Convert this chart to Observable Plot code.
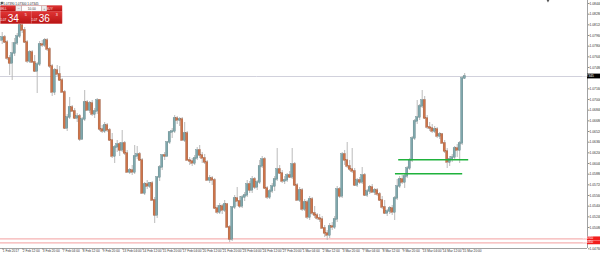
<!DOCTYPE html>
<html>
<head>
<meta charset="utf-8">
<script src="https://cdn.jsdelivr.net/npm/d3@7"></script>
<script src="https://cdn.jsdelivr.net/npm/@observablehq/plot@0.6"></script>
<style>
  html, body { margin: 0; padding: 0; background: #fff; }
  #chart { width: 600px; height: 255px; overflow: hidden; }
</style>
</head>
<body>
<div id="chart"></div>
<script>
// ---- DATA (EURUSD, H4 bars) ----
const open = [
1.07885,1.07930,1.07855,1.07615,1.07540,1.07690,1.07840,1.07945,1.08110,1.08035,
1.07855,1.07570,1.07705,1.07555,1.07420,1.07525,1.07825,1.07810,1.07885,1.07750,
1.07495,1.07105,1.07435,1.07375,1.07285,1.07105,1.06565,1.06730,1.06880,1.06820,
1.06715,1.06745,1.06400,1.06700,1.06955,1.06835,1.06940,1.06775,1.06820,1.06985,
1.06550,1.06520,1.06610,1.06535,1.06385,1.06145,1.06280,1.06325,1.06235,1.06340,
1.06190,1.05905,1.05935,1.05905,1.06145,1.06175,1.06085,1.05590,1.05725,1.05695,
1.05740,1.05485,1.05260,1.05830,1.05980,1.06160,1.06145,1.06355,1.06505,1.06520,
1.06715,1.06685,1.06700,1.06385,1.06490,1.06085,1.06070,1.06040,1.06115,1.06235,
1.06160,1.06115,1.06055,1.05785,1.05815,1.05785,1.05365,1.05305,1.05395,1.05335,
1.05425,1.05080,1.04900,1.05380,1.05515,1.05470,1.05395,1.05530,1.05560,1.05725,
1.05635,1.05800,1.05680,1.05755,1.05995,1.06100,1.05665,1.05530,1.05620,1.05695,
1.05800,1.05950,1.05890,1.05770,1.05785,1.05860,1.05830,1.06025,1.05710,1.05485,
1.05635,1.05350,1.05455,1.05230,1.05500,1.05290,1.05260,1.05215,1.05200,1.05065,
1.04990,1.04960,1.05095,1.05080,1.05200,1.05650,1.05545,1.06175,1.06085,1.05995,
1.05950,1.05920,1.05710,1.05785,1.05755,1.05860,1.05560,1.05620,1.05680,1.05605,
1.05635,1.05575,1.05485,1.05380,1.05290,1.05320,1.05365,1.05305,1.05515,1.05695,
1.05800,1.05755,1.05845,1.05965,1.06085,1.06415,1.06670,1.06730,1.06895,1.06985,
1.06715,1.06580,1.06565,1.06520,1.06550,1.06445,1.06475,1.06340,1.06220,1.06055,
1.06100,1.06130,1.06265,1.06235,1.06340,1.07315];
const high = [
1.08005,1.07960,1.07885,1.07660,1.07855,1.07915,1.07990,1.08185,1.08320,1.08080,
1.07885,1.07735,1.07735,1.07660,1.07555,1.07870,1.07885,1.07915,1.07915,1.07780,
1.07525,1.07465,1.07510,1.07495,1.07315,1.07135,1.06775,1.07030,1.06910,1.06865,
1.06790,1.06775,1.06730,1.07135,1.06985,1.06970,1.06985,1.06865,1.07015,1.07000,
1.06610,1.06655,1.06640,1.06565,1.06490,1.06310,1.06385,1.06355,1.06535,1.06370,
1.06235,1.05965,1.06010,1.06310,1.06295,1.06205,1.06115,1.05755,1.05785,1.05755,
1.05770,1.05530,1.05845,1.06010,1.06175,1.06205,1.06370,1.06520,1.06565,1.06760,
1.06745,1.06730,1.06730,1.06655,1.06520,1.06130,1.06115,1.06160,1.06280,1.06310,
1.06205,1.06175,1.06085,1.05860,1.05845,1.05815,1.05410,1.05440,1.05425,1.05485,
1.05440,1.05110,1.05395,1.05560,1.05680,1.05545,1.05560,1.05605,1.05785,1.05770,
1.05845,1.05830,1.05785,1.06085,1.06145,1.06130,1.05695,1.05650,1.05740,1.05845,
1.06265,1.06010,1.05935,1.05845,1.05890,1.05920,1.06265,1.06055,1.05740,1.05680,
1.05665,1.05500,1.05485,1.05545,1.05530,1.05395,1.05290,1.05275,1.05245,1.05110,
1.05035,1.05140,1.05155,1.05245,1.05695,1.05680,1.06205,1.06235,1.06355,1.06085,
1.06265,1.05965,1.05815,1.05830,1.05980,1.05890,1.05650,1.05710,1.05725,1.05665,
1.05665,1.05605,1.05545,1.05485,1.05350,1.05395,1.05410,1.05545,1.05800,1.05845,
1.05860,1.05875,1.05995,1.06115,1.06445,1.06700,1.06985,1.06925,1.07135,1.07045,
1.06760,1.06655,1.06625,1.06595,1.06580,1.06505,1.06490,1.06385,1.06265,1.06145,
1.06175,1.06295,1.06325,1.06370,1.07345,1.07390];
const low = [
1.07825,1.07840,1.07585,1.07360,1.07285,1.07645,1.07810,1.07915,1.07990,1.07840,
1.07540,1.07540,1.07540,1.07405,1.07090,1.07495,1.07780,1.07780,1.07720,1.07465,
1.07045,1.07060,1.07345,1.07270,1.07090,1.06550,1.06520,1.06700,1.06805,1.06700,
1.06655,1.06370,1.06385,1.06670,1.06820,1.06790,1.06745,1.06715,1.06775,1.06520,
1.06490,1.06490,1.06505,1.06370,1.06115,1.06040,1.06205,1.06145,1.06205,1.06160,
1.05890,1.05875,1.05860,1.05875,1.06100,1.06070,1.05575,1.05560,1.05650,1.05665,
1.05470,1.05140,1.05215,1.05770,1.05935,1.06085,1.06130,1.06325,1.06415,1.06490,
1.06625,1.06595,1.06370,1.06355,1.06070,1.06010,1.05995,1.06010,1.06085,1.06115,
1.06040,1.06025,1.05770,1.05740,1.05710,1.05350,1.05275,1.05275,1.05275,1.05305,
1.05065,1.04855,1.04870,1.05350,1.05395,1.05365,1.05365,1.05470,1.05530,1.05590,
1.05590,1.05650,1.05635,1.05725,1.05965,1.05650,1.05500,1.05500,1.05590,1.05620,
1.05770,1.05875,1.05740,1.05725,1.05755,1.05815,1.05800,1.05695,1.05470,1.05455,
1.05320,1.05320,1.05200,1.05185,1.05260,1.05215,1.05185,1.05155,1.05050,1.04930,
1.04885,1.04915,1.05035,1.05050,1.05155,1.05515,1.05515,1.06010,1.05965,1.05920,
1.05890,1.05695,1.05680,1.05725,1.05725,1.05545,1.05530,1.05575,1.05590,1.05560,
1.05545,1.05470,1.05350,1.05275,1.05245,1.05275,1.05260,1.05185,1.05485,1.05665,
1.05725,1.05665,1.05815,1.05935,1.06055,1.06385,1.06625,1.06685,1.06865,1.06700,
1.06550,1.06520,1.06490,1.06490,1.06415,1.06400,1.06325,1.06190,1.05965,1.05995,
1.06055,1.06085,1.06130,1.06040,1.06310,1.07300];
const close = [
1.07930,1.07855,1.07615,1.07540,1.07690,1.07840,1.07945,1.08110,1.08035,1.07855,
1.07570,1.07705,1.07555,1.07420,1.07525,1.07825,1.07810,1.07885,1.07750,1.07495,
1.07105,1.07435,1.07375,1.07285,1.07105,1.06565,1.06730,1.06880,1.06820,1.06715,
1.06745,1.06400,1.06700,1.06955,1.06835,1.06940,1.06775,1.06820,1.06985,1.06550,
1.06520,1.06610,1.06535,1.06385,1.06145,1.06280,1.06325,1.06235,1.06340,1.06190,
1.05905,1.05935,1.05905,1.06145,1.06175,1.06085,1.05590,1.05725,1.05695,1.05740,
1.05485,1.05260,1.05830,1.05980,1.06160,1.06145,1.06355,1.06505,1.06520,1.06715,
1.06685,1.06700,1.06385,1.06490,1.06085,1.06070,1.06040,1.06115,1.06235,1.06160,
1.06115,1.06055,1.05785,1.05815,1.05785,1.05365,1.05305,1.05395,1.05335,1.05425,
1.05080,1.04900,1.05380,1.05515,1.05470,1.05395,1.05530,1.05560,1.05725,1.05635,
1.05800,1.05680,1.05755,1.05995,1.06100,1.05665,1.05530,1.05620,1.05695,1.05800,
1.05950,1.05890,1.05770,1.05785,1.05860,1.05830,1.06025,1.05710,1.05485,1.05635,
1.05350,1.05455,1.05230,1.05500,1.05290,1.05260,1.05215,1.05200,1.05065,1.04990,
1.04960,1.05095,1.05080,1.05200,1.05650,1.05545,1.06175,1.06085,1.05995,1.05950,
1.05920,1.05710,1.05785,1.05755,1.05860,1.05560,1.05620,1.05680,1.05605,1.05635,
1.05575,1.05485,1.05380,1.05290,1.05320,1.05365,1.05305,1.05515,1.05695,1.05800,
1.05755,1.05845,1.05965,1.06085,1.06415,1.06670,1.06730,1.06895,1.06985,1.06715,
1.06580,1.06565,1.06520,1.06550,1.06445,1.06475,1.06340,1.06220,1.06055,1.06100,
1.06130,1.06265,1.06235,1.06340,1.07315,1.07345];

// time axis labels, one every 8 bars (32 trading hours)
const timeLabels = ["1 Feb 2017","2 Feb 12:00","3 Feb 20:00","7 Feb 04:00","8 Feb 12:00","9 Feb 20:00",
  "13 Feb 04:00","14 Feb 12:00","15 Feb 20:00","17 Feb 04:00","20 Feb 12:00","21 Feb 20:00",
  "23 Feb 04:00","24 Feb 12:00","27 Feb 20:00","1 Mar 04:00","2 Mar 12:00","3 Mar 20:00",
  "7 Mar 04:00","8 Mar 12:00","9 Mar 20:00","13 Mar 04:00","14 Mar 12:00","15 Mar 20:00"];
const barsPerLabel = 8;

// price axis labels (the ones hidden behind the price boxes are left out)
const priceTicks = [1.08440,1.08280,1.08120,1.07960,1.07800,1.07640,1.07480,1.07160,1.07000,
  1.06840,1.06680,1.06520,1.06360,1.06200,1.06040,1.05880,1.05720,1.05560,1.05400,
  1.05240,1.05080,1.04760];

const symbolTitle = "EURUSD,H4";
const bid = 1.07345;
const ask = 1.07363;
const redLevels = [1.04910, 1.04850];
const greenLevels = [1.06095, 1.05885];
const greenFromBar = [158.6, 157.3];
const greenToBar = [186.6, 184.2];
const lotSize = "10.00";

// ---- build tables ----
const bars = open.map((o, i) => ({i, open: o, high: high[i], low: low[i], close: close[i]}));
const greens = greenLevels.map((v, k) => ({level: v, from: greenFromBar[k], to: greenToBar[k]}));
const timeTickBars = timeLabels.map((_, k) => k * barsPerLabel);

const bullFill = "#7fa8ad", bearFill = "#cf7449";
const bullStroke = "#4f7479", bearStroke = "#8f4727";
const xDomain = [-0.68, 234.12];
const yDomain = [1.04765, 1.08485];
const font = "'Liberation Sans', Arial, sans-serif";

const chart = Plot.plot({
  width: 600, height: 255,
  marginLeft: 0, marginRight: 13, marginTop: 0, marginBottom: 7,
  style: {fontFamily: font, background: "#fff", overflow: "visible"},
  x: {type: "linear", domain: xDomain, axis: null},
  y: {type: "linear", domain: yDomain, axis: null},
  marks: [
    Plot.ruleY([bid], {stroke: "#c5c5d3", strokeWidth: 0.8}),
    Plot.ruleY(redLevels, {stroke: "#f6b2b2", strokeWidth: 1.4}),
    Plot.ruleX(bars, {x: "i", y1: "low", y2: "high", stroke: "#b3b3b3", strokeWidth: 0.9}),
    Plot.rect(bars, {
      x1: d => d.i - 0.42, x2: d => d.i + 0.42,
      y1: "open", y2: "close",
      insetTop: -0.25, insetBottom: -0.25,
      fill: d => d.close >= d.open ? bullFill : bearFill,
      stroke: d => d.close >= d.open ? bullStroke : bearStroke,
      strokeWidth: 0.35
    }),
    Plot.ruleY(greens, {y: "level", x1: "from", x2: "to", stroke: "#1fb23c", strokeWidth: 1.5}),
    Plot.ruleX([xDomain[1]], {stroke: "#8a8a8a", strokeWidth: 0.8}),
    Plot.ruleY([yDomain[0]], {stroke: "#8a8a8a", strokeWidth: 0.8}),
    Plot.axisY(priceTicks, {
      anchor: "right", tickSize: 1.5, tickPadding: 0.5, fontSize: 3.3,
      stroke: "#8a8a8a", fill: "#333", textAnchor: "start",
      tickFormat: d => d.toFixed(5)
    }),
    Plot.axisX(timeTickBars, {
      anchor: "bottom", tickSize: 1.5, tickPadding: 0.2, fontSize: 3.2,
      stroke: "#8a8a8a", fill: "#333", textAnchor: "start", dx: 0.6,
      tickFormat: d => timeLabels[d / barsPerLabel]
    })
  ]
});
document.getElementById("chart").appendChild(chart);

// ---- price boxes on the right axis (positioned through Plot's y scale) ----
const svg = d3.select(chart);
const yS = chart.scale("y");
const xS = chart.scale("x");
const axisX = xS.apply(xDomain[1]);
function priceBox(price, bg, h) {
  const y = yS.apply(price);
  svg.append("rect").attr("x", axisX).attr("y", y - h / 2).attr("width", 600 - axisX).attr("height", h).attr("fill", bg);
  svg.append("text").attr("x", axisX + 1).attr("y", y).attr("dy", "0.34em")
    .attr("font-size", h > 4 ? 3.3 : 2.9).attr("font-family", font).attr("fill", "#fff").text(price.toFixed(5));
}
priceBox(bid, "#000", 4.8);
redLevels.forEach(v => priceBox(v, "#f21d1d", 3.8));

// chart shift marker
svg.append("path").attr("d", "M546.6,0 L549.4,0 L548,2.6 Z").attr("fill", "#555");

// ---- title and one-click trading panel ----
const g = svg.append("g").attr("font-family", font);
g.append("rect").attr("x", 1).attr("y", 1.8).attr("width", 2.3).attr("height", 2.3).attr("fill", "#666");
g.append("text").attr("x", 5).attr("y", 4.6).attr("font-size", 3.1).attr("fill", "#222")
  .text(`${symbolTitle}  ${open[open.length-1].toFixed(5)} ${high[high.length-1].toFixed(5)} ${low[low.length-1].toFixed(5)} ${close[close.length-1].toFixed(5)}`);

const defs = svg.append("defs");
const grad = defs.append("linearGradient").attr("id", "redg").attr("x1", 0).attr("y1", 0).attr("x2", 0).attr("y2", 1);
grad.append("stop").attr("offset", "0%").attr("stop-color", "#e03434");
grad.append("stop").attr("offset", "100%").attr("stop-color", "#b81414");

g.append("rect").attr("x", 0.5).attr("y", 5.6).attr("width", 61.6).attr("height", 18).attr("fill", "#c41e1e");
// top row
g.append("rect").attr("x", 0.5).attr("y", 5.6).attr("width", 15).attr("height", 5.7).attr("fill", "url(#redg)");
g.append("text").attr("x", 3).attr("y", 9.7).attr("font-size", 3.2).attr("fill", "#fbe3e3").text("SELL");
g.append("rect").attr("x", 15.8).attr("y", 5.9).attr("width", 5.8).attr("height", 5.1).attr("fill", "#ececec").attr("stroke", "#bbb").attr("stroke-width", 0.3);
g.append("text").attr("x", 18.7).attr("y", 9.6).attr("font-size", 3.4).attr("fill", "#555").attr("text-anchor", "middle").text("−");
g.append("rect").attr("x", 21.8).attr("y", 5.9).attr("width", 19.8).attr("height", 5.1).attr("fill", "#fff").attr("stroke", "#bbb").attr("stroke-width", 0.3);
g.append("text").attr("x", 31.7).attr("y", 9.6).attr("font-size", 3.2).attr("fill", "#333").attr("text-anchor", "middle").text(lotSize);
g.append("rect").attr("x", 41.8).attr("y", 5.9).attr("width", 5).attr("height", 5.1).attr("fill", "#ececec").attr("stroke", "#bbb").attr("stroke-width", 0.3);
g.append("text").attr("x", 44.3).attr("y", 9.6).attr("font-size", 3.4).attr("fill", "#555").attr("text-anchor", "middle").text("+");
g.append("rect").attr("x", 47).attr("y", 5.6).attr("width", 15.1).attr("height", 5.7).attr("fill", "url(#redg)");
g.append("text").attr("x", 49.5).attr("y", 9.7).attr("font-size", 3.2).attr("fill", "#fbe3e3").text("BUY");
// price row
function bigPrice(x0, price) {
  const s = price.toFixed(5);
  g.append("rect").attr("x", x0).attr("y", 11.6).attr("width", 30.6).attr("height", 12).attr("fill", "url(#redg)")
    .attr("stroke", "#f3a0a0").attr("stroke-width", 0.3);
  g.append("text").attr("x", x0 + 2.8).attr("y", 20.9).attr("font-size", 3.2).attr("fill", "#fff").text(s.slice(0, 4));
  g.append("text").attr("x", x0 + 12.8).attr("y", 21.7).attr("font-size", 10).attr("fill", "#fff").text(s.slice(4, 6));
  g.append("text").attr("x", x0 + 25.3).attr("y", 15.9).attr("font-size", 3.6).attr("fill", "#fff").text(s.slice(6));
}
bigPrice(0.5, bid);
bigPrice(31.5, ask);
</script>
</body>
</html>
